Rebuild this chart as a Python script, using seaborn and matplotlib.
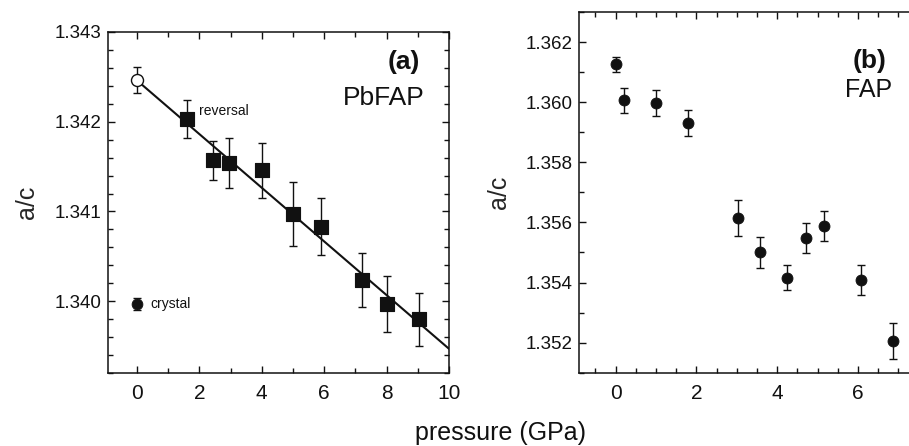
import numpy as np
import pandas as pd
import matplotlib
matplotlib.use("Agg")
import matplotlib.pyplot as plt
import seaborn as sns
from matplotlib.ticker import MultipleLocator, FormatStrFormatter

# datos panel (a): PbFAP
pb_p = [1.59, 2.43, 2.95, 4.00, 4.99, 5.89, 7.20, 8.00, 9.05]
pb_ac = [1.34203, 1.34157, 1.34154, 1.34146, 1.34097, 1.34083, 1.34024, 1.33997, 1.33980]
pb_err = [0.000215, 0.000215, 0.000275, 0.000305, 0.000357, 0.00032, 0.0003, 0.00031, 0.000295]
pb_open_p = [0.0]
pb_open_ac = [1.34247]
pb_open_err = [0.000145]
crystal_p = [0.0]
crystal_ac = [1.33997]
crystal_err = [0.00007]
fit_p = [0.0, 10.0]
fit_ac = [1.34246, 1.33947]

# datos panel (b): FAP
fap_p = [0.0, 0.2, 1.0, 1.78, 3.03, 3.57, 4.24, 4.71, 5.16, 6.07, 6.87]
fap_ac = [1.36126, 1.36006, 1.35997, 1.35932, 1.35615, 1.35501, 1.35416, 1.35547, 1.35589, 1.35410, 1.35207]
fap_err = [0.00025, 0.00042, 0.00042, 0.00043, 0.00059, 0.00052, 0.00042, 0.0005, 0.0005, 0.0005, 0.0006]

sns.set_style("ticks")
plt.rcParams['font.family'] = ['Liberation Sans', 'DejaVu Sans']
ink = '#111111'

fig = plt.figure(figsize=(9.09, 4.46), dpi=100)
ax1 = fig.add_axes([0.1188, 0.1637, 0.3751, 0.7646])
# el panel (b) sigue más allá del borde derecho de la figura (recortado)
ax2 = fig.add_axes([0.6373, 0.1643, 0.3733, 0.8088])

# panel (a)
sns.lineplot(x=fit_p, y=fit_ac, ax=ax1, color=ink, lw=1.5)
ax1.errorbar(pb_p, pb_ac, yerr=pb_err, fmt='none', ecolor=ink, elinewidth=1.0, capsize=3)
ax1.errorbar(pb_open_p, pb_open_ac, yerr=pb_open_err, fmt='none', ecolor=ink, elinewidth=1.0, capsize=3)
ax1.errorbar(crystal_p, crystal_ac, yerr=crystal_err, fmt='none', ecolor=ink, elinewidth=1.0, capsize=3)
sns.scatterplot(x=pb_p, y=pb_ac, ax=ax1, marker='s', s=105, color=ink, edgecolor=ink, zorder=5)
sns.scatterplot(x=pb_open_p, y=pb_open_ac, ax=ax1, marker='o', s=75, facecolor='white',
                edgecolor=ink, linewidth=1.0, zorder=5)
sns.scatterplot(x=crystal_p, y=crystal_ac, ax=ax1, marker='o', s=60, color=ink, edgecolor=ink, zorder=5)
ax1.text(1.99, 1.34212, 'reversal', fontsize=10, va='center', ha='left', color=ink)
ax1.text(0.44, 1.33997, 'crystal', fontsize=10, va='center', ha='left', color=ink)
ax1.text(0.868, 0.912, '(a)', transform=ax1.transAxes, fontsize=19, fontweight='bold',
         ha='center', va='center', color=ink)
ax1.text(0.809, 0.806, 'PbFAP', transform=ax1.transAxes, fontsize=19,
         ha='center', va='center', color=ink)
ax1.set_xlim(-0.93, 10)
ax1.set_ylim(1.3392, 1.343)
ax1.xaxis.set_major_locator(MultipleLocator(2))
ax1.xaxis.set_minor_locator(MultipleLocator(1))
ax1.yaxis.set_major_locator(MultipleLocator(0.001))
ax1.yaxis.set_minor_locator(MultipleLocator(0.0002))
ax1.yaxis.set_major_formatter(FormatStrFormatter('%.3f'))
ax1.set_ylabel('a/c', fontsize=18, labelpad=11)

# panel (b)
ax2.errorbar(fap_p, fap_ac, yerr=fap_err, fmt='none', ecolor=ink, elinewidth=1.0, capsize=3)
sns.scatterplot(x=fap_p, y=fap_ac, ax=ax2, marker='o', s=62, color=ink, edgecolor=ink, zorder=5)
ax2.text(0.856, 0.864, '(b)', transform=ax2.transAxes, fontsize=19, fontweight='bold',
         ha='center', va='center', color=ink)
ax2.text(0.853, 0.784, 'FAP', transform=ax2.transAxes, fontsize=18,
         ha='center', va='center', color=ink)
ax2.set_xlim(-0.9, 7.5)
ax2.set_ylim(1.351, 1.363)
ax2.xaxis.set_major_locator(MultipleLocator(2))
ax2.xaxis.set_minor_locator(MultipleLocator(0.5))
ax2.yaxis.set_major_locator(MultipleLocator(0.002))
ax2.yaxis.set_minor_locator(MultipleLocator(0.001))
ax2.yaxis.set_major_formatter(FormatStrFormatter('%.3f'))
ax2.set_ylabel('a/c', fontsize=18, labelpad=10)

for ax in (ax1, ax2):
    for sp in ax.spines.values():
        sp.set_linewidth(1.1)
        sp.set_color(ink)
    ax.tick_params(which='both', direction='in', top=True, right=True, colors=ink, width=1.0)
    ax.tick_params(which='major', length=5)
    ax.tick_params(which='minor', length=3.5)
    ax.tick_params(axis='x', labelsize=15, pad=8)
    ax.tick_params(axis='y', labelsize=13.5, pad=5)
    ax.set_xlabel('')

fig.text(0.551, 0.029, 'pressure (GPa)', fontsize=18, ha='center', va='center', color=ink)

plt.savefig('out.png', dpi=100)
